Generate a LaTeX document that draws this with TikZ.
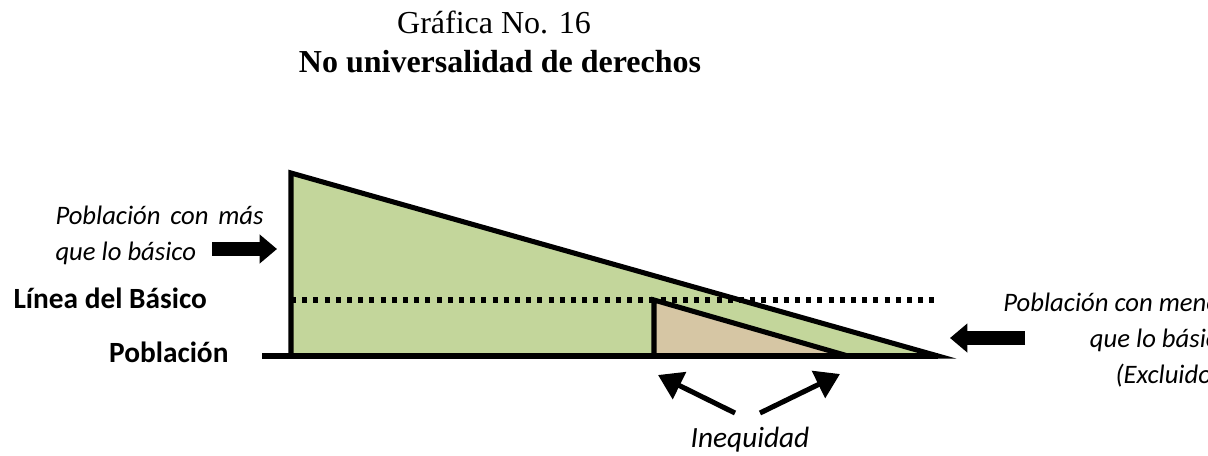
\documentclass[tikz,border=0pt]{standalone}
\usepackage{fontspec}
\setmainfont{Liberation Serif}
\newfontfamily\calibri{Carlito}
\usetikzlibrary{arrows.meta}
\definecolor{verde}{RGB}{195,214,155}
\definecolor{beige}{RGB}{214,198,164}
\tikzset{>={Triangle[length=9pt,width=11pt]}}
\tikzset{
  borde/.style={line width=1.9pt},
  bloque/.style={line width=5.3pt,-{Triangle[length=6.5pt,width=10.5pt]}},
  flecha/.style={line width=1.9pt,->},
  etiq/.style={font=\calibri\fontsize{10}{13.5}\selectfont\itshape,inner sep=0pt},
  negrita/.style={font=\calibri\fontsize{11}{13.5}\selectfont\bfseries,inner sep=0pt}
}

\begin{document}
\begin{tikzpicture}[x=0.375pt,y=-0.375pt]
\useasboundingbox (0,0) rectangle (1208,455);
% vertices
\coordinate (A) at (291,173);
\coordinate (O) at (291,356);
\coordinate (T) at (938,356);
\coordinate (B) at (654,300);
\coordinate (C) at (654,356);
\coordinate (D) at (848,356);
\coordinate (L) at (262,356);
\coordinate (E) at (937,300);
\filldraw[borde,fill=verde] (A) -- (T) -- (O) -- cycle;
\filldraw[borde,fill=beige] (B) -- (D) -- (C) -- cycle;
\draw[borde] (L) -- (T);
\draw[borde,dash pattern=on 1.9pt off 2.3pt] (O |- B) -- (E);
% titles
\node[font=\fontsize{12}{14}\selectfont] (graf) at (494,22) {Gráfica No. 16};
\node[font=\fontsize{12}{14}\selectfont\bfseries] (tit) at (500,62) {No universalidad de derechos};
% labels
\node[etiq,anchor=west,align=left] (mas) at (55,235)
  {\makebox[78pt][s]{Población con más}\\que lo básico};
\node[negrita,anchor=west] (linea) at (13,298) {Línea del Básico};
\node[negrita,anchor=east] (pob) at (229,352) {Población};
\node[etiq,anchor=east,align=right] (menos) at (1231,340)
  {Población con menos\\que lo básico\\(Excluidos)};
\node[etiq,font=\calibri\fontsize{11}{13.5}\selectfont\itshape] (ineq) at (750,440) {Inequidad};
% arrows
\coordinate (m1) at (212,249);
\coordinate (m2) at (277,249);
\coordinate (n1) at (1025,338);
\coordinate (n2) at (950,338);
\coordinate (i1) at (735,413);
\coordinate (i2) at (658,375);
\coordinate (j1) at (760,413);
\coordinate (j2) at (840,374);
\draw[bloque] (m1) -- (m2);
\draw[bloque] (n1) -- (n2);
\draw[flecha] (i1) -- (i2);
\draw[flecha] (j1) -- (j2);
\end{tikzpicture}
\end{document}
